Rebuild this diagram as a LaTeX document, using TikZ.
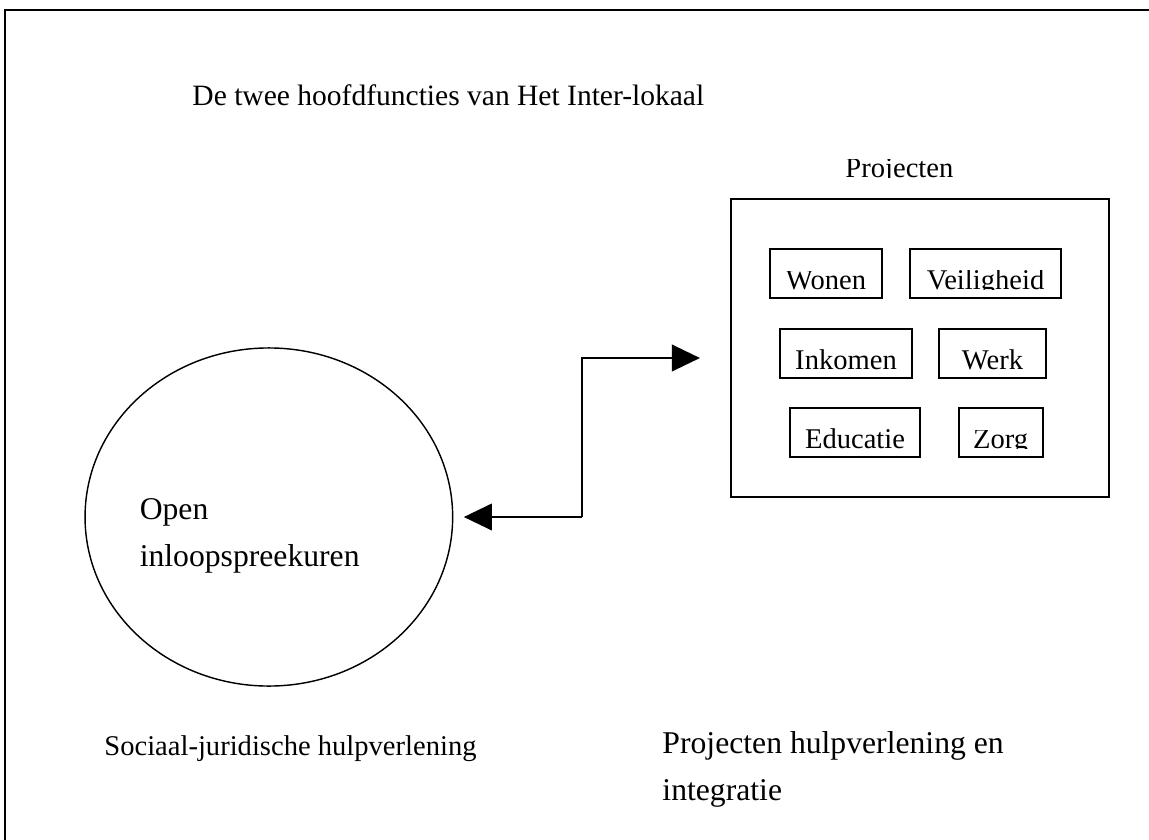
\documentclass[tikz,border=0pt]{standalone}
\usepackage{fontspec}
\setmainfont{Liberation Serif}
\usepackage{trimclip}
\usetikzlibrary{positioning,shapes.geometric,arrows.meta}
\newcommand*\afgesneden[1]{\clipbox{0pt {\depth} 0pt 0pt}{#1}}
\tikzset{
	>={Triangle[length=11.8pt,width=11.2pt]},
	kader/.style={draw, line width=0.8pt},
	thema/.style={
		rectangle,
		draw, line width=0.8pt,
		inner sep=0pt,
		text height=17.2pt,
		text depth=3.4pt,
		font=\fontsize{12}{14}\selectfont},
	tekst/.style={inner sep=0pt, font=\fontsize{12}{14}\selectfont},
	grotetekst/.style={inner sep=0pt, align=left, font=\fontsize{13.3}{19.7}\selectfont},
	pijl/.style={draw, line width=0.8pt, ->},
}

\begin{document}
\begin{tikzpicture}[x=0.42pt, y=-0.42pt]
\clip (0,0) rectangle (1149,839);
% rand
\draw[kader] (5,10) rectangle (1200,900);
\node[tekst, anchor=base west, font=\fontsize{12.4}{14}\selectfont] (titel) at (192,106) {De twee hoofdfuncties van Het Inter-lokaal};
% projecten
\node[kader, minimum width=158.8pt, minimum height=124.9pt, inner sep=0pt] (proj) at (919.7,348) {};
\node[tekst, anchor=base west] (projlabel) at (845,178) {\afgesneden{Projecten}};
\node[thema, minimum width=47pt] (wonen) at (826,273.5) {\afgesneden{Wonen}};
\node[thema, minimum width=63.7pt] (veilig) at (985.5,273.5) {\afgesneden{Veiligheid}};
\node[thema, minimum width=55.4pt] (inkomen) at (846,353.2) {\afgesneden{Inkomen}};
\node[thema, minimum width=45.2pt] (werk) at (992.5,353.2) {\afgesneden{Werk}};
\node[thema, minimum width=54.9pt] (educatie) at (855,432.3) {\afgesneden{Educatie}};
\node[thema, minimum width=35.3pt] (zorg) at (1000.7,432.3) {\afgesneden{Zorg}};
% inloop
\node[kader, line width=0.6pt, ellipse, minimum width=154.4pt, minimum height=142pt, inner sep=0pt] (inloop) at (268.85,517) {};
\node[grotetekst, anchor=base west] (inlooptekst) at (139.3,566.7) {Open\\inloopspreekuren};
% pijlen
\coordinate (knik) at (582,517);
\draw[pijl] (knik) -- ([xshift=4.4pt]inloop.east);
\draw[pijl] (knik) |- ([xshift=-12.5pt,yshift=-4.2pt]proj.west);
% onderschriften
\node[tekst, anchor=base east] (sociaal) at (477,755) {Sociaal-juridische hulpverlening};
\node[grotetekst, anchor=base west] (projtekst) at (662,800) {Projecten hulpverlening en\\integratie};
\end{tikzpicture}
\end{document}
